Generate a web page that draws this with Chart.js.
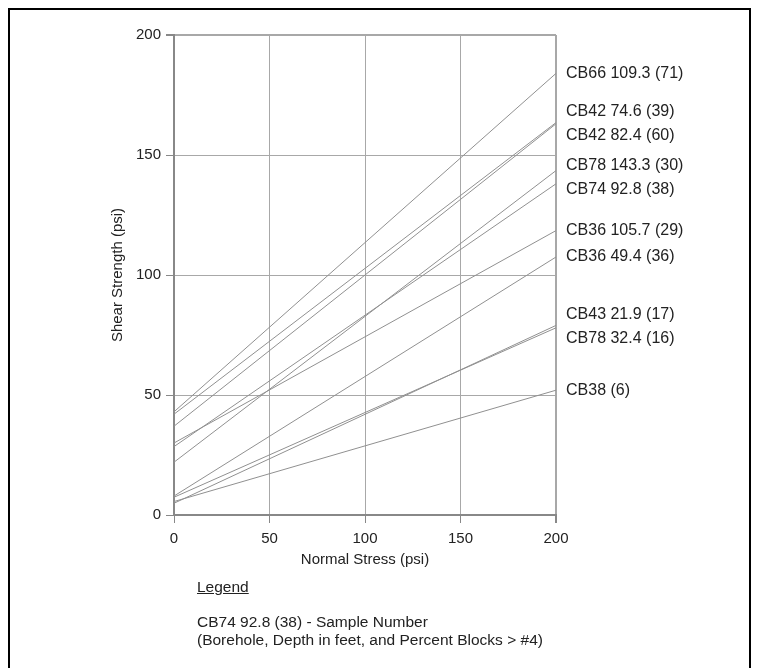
<!DOCTYPE html>
<html>
<head>
<meta charset="utf-8">
<script src="https://cdn.jsdelivr.net/npm/chart.js@4/dist/chart.umd.min.js"></script>
<style>
  html, body { margin: 0; padding: 0; background: #fff; }
  body { width: 761px; height: 668px; position: relative; overflow: hidden;
         font-family: "Liberation Sans", Arial, sans-serif; color: #222; }
  #frame { position: absolute; left: 8px; top: 8px; width: 739px; height: 720px;
           border: 2px solid #000; }
  #wrap { position: absolute; left: 0; top: 0; width: 761px; height: 668px; }
  .note { position: absolute; left: 197px; font-size: 15.5px; line-height: 18px; white-space: nowrap; }
</style>
</head>
<body>
<div id="frame"></div>
<div id="wrap"><canvas id="chart" width="761" height="668"></canvas></div>
<div class="note" style="top:578px;text-decoration:underline;">Legend</div>
<div class="note" style="top:613px;">CB74 92.8 (38) - Sample Number<br>(Borehole, Depth in feet, and Percent Blocks &gt; #4)</div>
<script>
// failure envelopes, shear strength at normal stress 0 and 200 psi
const normalStress = [0, 200];
const samples = [
  "CB66 109.3 (71)",
  "CB42 74.6 (39)",
  "CB42 82.4 (60)",
  "CB78 143.3 (30)",
  "CB74 92.8 (38)",
  "CB36 105.7 (29)",
  "CB36 49.4 (36)",
  "CB43 21.9 (17)",
  "CB78 32.4 (16)",
  "CB38 (6)",
];
const strengthAt0 = [43, 42, 37, 22, 28.5, 30, 7.9, 4.9, 7.4, 5.6];
const strengthAt200 = [184, 163.5, 163, 143.5, 138, 118.5, 107.5, 79, 78, 52];
const axisTicks = [0, 50, 100, 150, 200];

const FONT = { family: '"Liberation Sans", Arial, sans-serif', size: 15 };
const LABEL_SIZE = 16;

// sample names at the right end of each line, pushed apart where they crowd
const endLabels = {
  id: "endLabels",
  afterDatasetsDraw(chart) {
    const { ctx, scales } = chart;
    const minGap = 24;
    let items = samples.map((s, i) => ({ text: s, y: scales.y.getPixelForValue(strengthAt200[i]) }));
    items.sort((a, b) => a.y - b.y);
    // merge overlapping groups and centre them on their mean
    let groups = items.map((it) => ({ items: [it], c: it.y }));
    let moved = true;
    while (moved) {
      moved = false;
      for (let i = 0; i < groups.length - 1; i++) {
        const a = groups[i], b = groups[i + 1];
        const aBot = a.c + (a.items.length - 1) * minGap / 2;
        const bTop = b.c - (b.items.length - 1) * minGap / 2;
        if (bTop - aBot < minGap) {
          const all = a.items.concat(b.items);
          const c = all.reduce((s, it) => s + it.y, 0) / all.length;
          groups.splice(i, 2, { items: all, c: c });
          moved = true;
          break;
        }
      }
    }
    ctx.save();
    ctx.font = LABEL_SIZE + "px " + FONT.family;
    ctx.fillStyle = "#222";
    ctx.textBaseline = "middle";
    ctx.textAlign = "left";
    const x = scales.x.right + 10;
    groups.forEach((g) => {
      const start = g.c - (g.items.length - 1) * minGap / 2;
      g.items.forEach((it, k) => ctx.fillText(it.text, x, start + k * minGap));
    });
    ctx.restore();
  },
};

const datasets = samples.map((s, i) => ({
  label: s,
  data: normalStress.map((x, j) => ({ x: x, y: j === 0 ? strengthAt0[i] : strengthAt200[i] })),
  borderColor: "#909090",
  borderWidth: 1,
  pointRadius: 0,
  fill: false,
}));

new Chart(document.getElementById("chart"), {
  type: "line",
  data: { datasets: datasets },
  options: {
    responsive: false,
    animation: false,
    layout: { padding: { left: 100, right: 205, top: 35, bottom: 98 } },
    plugins: { legend: { display: false }, tooltip: { enabled: false } },
    scales: {
      x: {
        type: "linear",
        min: 0,
        max: 200,
        afterFit: (s) => { s.height = 55; },
        afterBuildTicks: (s) => { s.ticks = axisTicks.map((v) => ({ value: v })); },
        grid: {
          color: "#a8a8a8",
          lineWidth: (c) => (c.tick && c.tick.value === 200 ? 2 : 1),
          tickLength: 8,
          tickColor: "#888",
        },
        border: { color: "#888", width: 2 },
        ticks: { color: "#222", font: FONT, padding: 7, maxRotation: 0 },
        title: { display: true, text: "Normal Stress (psi)", color: "#222", font: FONT, padding: { top: 0, bottom: 1 } },
      },
      y: {
        type: "linear",
        min: 0,
        max: 200,
        afterFit: (s) => { s.width = 74; },
        afterBuildTicks: (s) => { s.ticks = axisTicks.map((v) => ({ value: v })); },
        grid: {
          color: "#a8a8a8",
          lineWidth: (c) => (c.tick && c.tick.value === 200 ? 2 : 1),
          tickLength: 8,
          tickColor: "#888",
        },
        border: { color: "#888", width: 2 },
        ticks: { color: "#222", font: FONT, padding: 5 },
        title: { display: true, text: "Shear Strength (psi)", color: "#222", font: FONT, padding: { top: 9, bottom: 0 } },
      },
    },
  },
  plugins: [endLabels],
});
</script>
</body>
</html>
